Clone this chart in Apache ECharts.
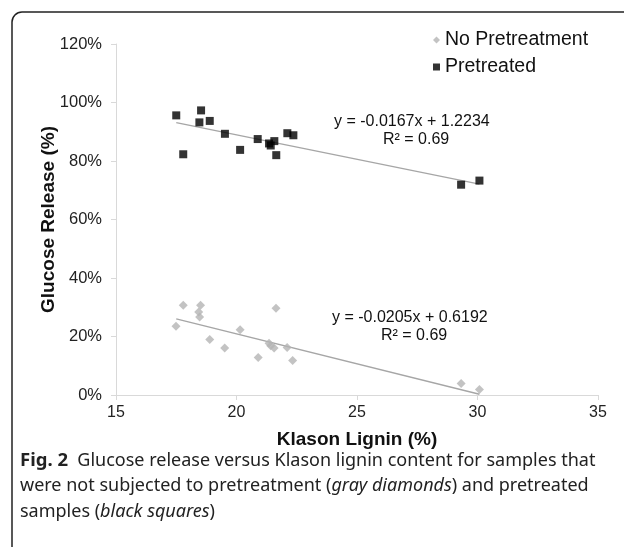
<!DOCTYPE html>
<html>
<head>
<meta charset="utf-8">
<script src="https://cdn.jsdelivr.net/npm/echarts@6/dist/echarts.min.js"></script>
<style>
  html, body { margin: 0; padding: 0; background: #fff; }
  #view { width: 624px; height: 547px; }
</style>
</head>
<body>
<div id="view"></div>
<script>
// Klason lignin (%) vs glucose release (%)
var noPretreatX = [17.49, 17.79, 18.43, 18.47, 18.51, 18.89, 19.51, 20.15, 20.9, 21.35, 21.42, 21.56, 21.64, 22.1, 22.33, 29.32, 30.08];
var noPretreatY = [23.5, 30.7, 28.4, 26.7, 30.7, 19.0, 16.1, 22.3, 12.8, 17.7, 16.8, 16.1, 29.7, 16.2, 11.8, 3.9, 1.9];
var pretreatX = [17.5, 17.79, 18.46, 18.53, 18.89, 19.52, 20.15, 20.88, 21.35, 21.42, 21.57, 21.65, 22.11, 22.36, 29.32, 30.08];
var pretreatY = [95.6, 82.3, 93.2, 97.3, 93.7, 89.3, 83.8, 87.5, 86.0, 85.3, 86.8, 82.0, 89.5, 88.8, 71.9, 73.3];

// trendline fits as printed on the chart (fraction units)
var fitNo = {slope: -0.0205, intercept: 0.6192, r2: 0.69};
var fitPre = {slope: -0.0167, intercept: 1.2234, r2: 0.69};
var trendRange = [17.5, 30.08];

var seriesNames = ['No Pretreatment', 'Pretreated'];

function pairs(xs, ys) {
    return xs.map(function(x, i) { return [x, ys[i]]; });
}
function trend(fit) {
    return trendRange.map(function(x) {
        return [x, (fit.slope * x + fit.intercept) * 100];
    });
}

var chart = echarts.init(document.getElementById('view'));
var font = 'Liberation Sans, Arial, sans-serif';

chart.setOption({
    animation: false,
    textStyle: {fontFamily: font},
    grid: {left: 116, right: 26, top: 44, bottom: 152},
    legend: {
        data: [
            {name: seriesNames[0], icon: 'diamond', itemStyle: {color: '#b4b4b4'}},
            {name: seriesNames[1], icon: 'rect', itemStyle: {color: '#000'}}
        ],
        orient: 'vertical',
        left: 428, top: 25,
        itemWidth: 7, itemHeight: 7, itemGap: 7,
        textStyle: {fontSize: 19.5, color: '#111', fontFamily: font}
    },
    xAxis: {
        type: 'value', min: 15, max: 35, interval: 5,
        name: 'Klason Lignin (%)', nameLocation: 'middle', nameGap: 35,
        nameTextStyle: {fontSize: 19, fontWeight: 'bold', color: '#111'},
        axisLine: {lineStyle: {color: '#d9d9d9'}},
        axisTick: {show: true, length: 5, lineStyle: {color: '#d9d9d9'}},
        axisLabel: {fontSize: 16, color: '#222', margin: 10},
        splitLine: {show: false}
    },
    yAxis: {
        type: 'value', min: 0, max: 120, interval: 20,
        name: 'Glucose Release (%)', nameLocation: 'middle', nameGap: 58,
        nameMoveOverlap: false,
        nameTextStyle: {fontSize: 19, fontWeight: 'bold', color: '#111'},
        axisLine: {show: true, lineStyle: {color: '#d9d9d9'}},
        axisTick: {show: true, length: 5, lineStyle: {color: '#d9d9d9'}},
        axisLabel: {fontSize: 16.5, color: '#222', margin: 14, formatter: '{value}%'},
        splitLine: {show: false}
    },
    series: [
        {name: seriesNames[0], type: 'scatter', symbol: 'diamond', symbolSize: 9,
         itemStyle: {color: '#b4b4b4'}, data: pairs(noPretreatX, noPretreatY), z: 3},
        {name: seriesNames[1], type: 'scatter', symbol: 'rect', symbolSize: 8,
         itemStyle: {color: '#000'}, data: pairs(pretreatX, pretreatY), z: 3},
        {name: 'fitNo', type: 'line', data: trend(fitNo), showSymbol: false, silent: true,
         lineStyle: {color: '#a6a6a6', width: 1.3}, z: 2},
        {name: 'fitPre', type: 'line', data: trend(fitPre), showSymbol: false, silent: true,
         lineStyle: {color: '#a6a6a6', width: 1.3}, z: 2}
    ],
    graphic: [
        {type: 'rect', shape: {x: 12, y: 12, width: 640, height: 545, r: 10},
         style: {fill: null, stroke: '#222', lineWidth: 1.5}, silent: true},
        {type: 'text', left: 334, top: 114,
         style: {text: 'y = -0.0167x + 1.2234', font: '16px ' + font, fill: '#111'}},
        {type: 'text', left: 383, top: 132,
         style: {text: 'R² = ' + fitPre.r2.toFixed(2), font: '16px ' + font, fill: '#111'}},
        {type: 'text', left: 332, top: 310,
         style: {text: 'y = -0.0205x + 0.6192', font: '16px ' + font, fill: '#111'}},
        {type: 'text', left: 381, top: 328,
         style: {text: 'R² = ' + fitNo.r2.toFixed(2), font: '16px ' + font, fill: '#111'}},
        {type: 'text', left: 20, top: 448,
         style: {
            text: '{b|Fig. 2}  Glucose release versus Klason lignin content for samples that\n' +
                  'were not subjected to pretreatment ({i|gray diamonds}) and pretreated\n' +
                  'samples ({i|black squares})',
            font: '18px Noto Sans', fill: '#222', lineHeight: 25.5,
            rich: {
                b: {fontWeight: 'bold', fontSize: 18.5, fontFamily: 'Noto Sans', fill: '#222'},
                i: {fontStyle: 'italic', fontSize: 18, fontFamily: 'Noto Sans', fill: '#222'}
            }
         }}
    ]
});
</script>
</body>
</html>
